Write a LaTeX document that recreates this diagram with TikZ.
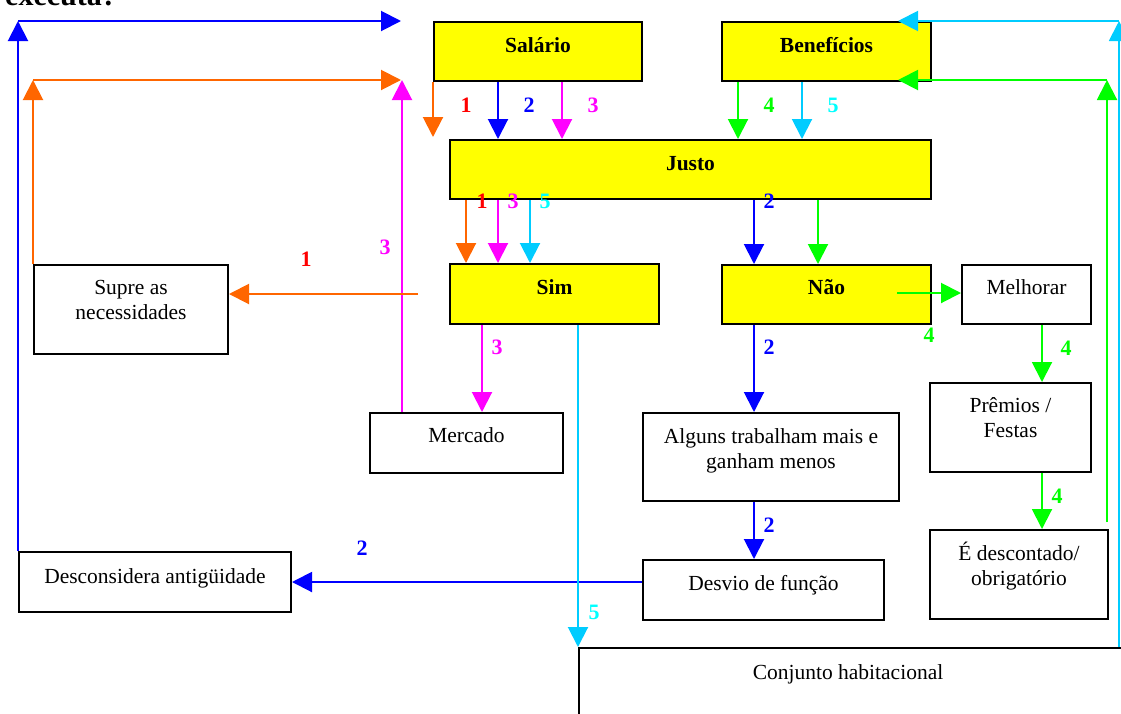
\documentclass[tikz,border=0pt]{standalone}
\usepackage{fontspec}
\setmainfont{Liberation Serif}
\usetikzlibrary{arrows.meta,calc}

\definecolor{cOrange}{HTML}{FF6600}
\definecolor{cRed}{HTML}{FF0000}
\definecolor{cBlue}{HTML}{0000FF}
\definecolor{cMag}{HTML}{FF00FF}
\definecolor{cGreen}{HTML}{00FF00}
\definecolor{cCyan}{HTML}{00CCFF}
\definecolor{cCyanTxt}{HTML}{00FFFF}
\definecolor{cYellow}{HTML}{FFFF00}

\tikzset{
  box/.style={draw=black, line width=2pt, fill=white, inner sep=0pt, anchor=north west},
  ybox/.style={box, fill=cYellow},
  txt/.style={font=\fontsize{21.5}{25}\selectfont, align=center, anchor=base, inner sep=0pt},
  btxt/.style={font=\fontsize{21.5}{25}\selectfont\bfseries, anchor=base, inner sep=0pt},
  num/.style={font=\fontsize{22}{22}\selectfont\bfseries, inner sep=0pt},
  link/.style={line width=2pt, -{Triangle[length=20pt,width=20pt]}},
}

\begin{document}
\begin{tikzpicture}[x=1pt,y=-1pt]
\clip (0,0) rectangle (1121,713);

% heading, cut at the top edge
\node[font=\fontsize{30}{30}\selectfont\bfseries, anchor=base west, inner sep=0pt] (title) at (5,5) {executa?};

% yellow boxes
\node[ybox, minimum width=208pt, minimum height=59pt] (sal) at (433,21) {};
\node[btxt] (salT) at ($(sal.north)+(0,31)$) {Salário};
\node[ybox, minimum width=209pt, minimum height=59pt] (ben) at (721,21) {};
\node[btxt] (benT) at ($(ben.north)+(0,31)$) {Benefícios};
\node[ybox, minimum width=481pt, minimum height=59pt] (justo) at (449,139) {};
\node[btxt] (justoT) at ($(justo.north)+(0,31)$) {Justo};
\node[ybox, minimum width=209pt, minimum height=60pt] (sim) at (449,263) {};
\node[btxt] (simT) at ($(sim.north)+(0,31)$) {Sim};
\node[ybox, minimum width=209pt, minimum height=59pt] (nao) at (721,264) {};
\node[btxt] (naoT) at ($(nao.north)+(0,30)$) {Não};

% white boxes (two-line texts sit on the baseline of their last line)
\node[box, minimum width=129pt, minimum height=59pt] (mel) at (961,264) {};
\node[txt] (melT) at ($(mel.north)+(0,30)$) {Melhorar};
\node[box, minimum width=194pt, minimum height=89pt] (supre) at (33,264) {};
\node[txt] (supreT) at ($(supre.north)+(0,55)$) {Supre as\\necessidades};
\node[box, minimum width=193pt, minimum height=60pt] (merc) at (369,412) {};
\node[txt] (mercT) at ($(merc.north)+(0,30)$) {Mercado};
\node[box, minimum width=256pt, minimum height=88pt] (alg) at (642,412) {};
\node[txt] (algT) at ($(alg.north)+(0,56)$) {Alguns trabalham mais e\\ganham menos};
\node[box, minimum width=241pt, minimum height=60pt] (desv) at (642,559) {};
\node[txt] (desvT) at ($(desv.north)+(0,31)$) {Desvio de função};
\node[box, minimum width=272pt, minimum height=60pt] (desc) at (18,551) {};
\node[txt] (descT) at ($(desc.north)+(0,32)$) {Desconsidera antigüidade};
\node[box, minimum width=161pt, minimum height=89pt] (prem) at (929,382) {};
\node[txt] (premT) at ($(prem.north)+(0,55)$) {Prêmios /\\Festas};
\node[box, minimum width=178pt, minimum height=89pt] (edesc) at (929,529) {};
\node[txt] (edescT) at ($(edesc.north)+(0,56)$) {É descontado/\\obrigatório};
\node[box, minimum width=560pt, minimum height=80pt] (conj) at (578,647) {};
\node[txt] (conjT) at ($(conj.north west)+(270,32)$) {Conjunto habitacional};

% free ends of connectors
\coordinate (oTip) at (433,137);
\coordinate (oStart) at (418,294);
\coordinate (oCorner) at (33,80);
\coordinate (oEnd) at (401,80);
\coordinate (bCorner) at (18,21);
\coordinate (bEnd) at (401,21);
\coordinate (mTip) at (402,80);
\coordinate (gStart) at (897,293);
\coordinate (gFoot) at (1107,522);
\coordinate (gCorner) at (1107,80);
\coordinate (gEnd) at (898,80);
\coordinate (cCorner) at (1119,21);
\coordinate (cEnd) at (898,21);

% path 3 (magenta)
\draw[link,cMag] (562,0 |- sal.south) -- (562,0 |- justo.north);
\draw[link,cMag] (498,0 |- justo.south) -- (498,0 |- sim.north);
\draw[link,cMag] (482,0 |- sim.south) -- (482,0 |- merc.north);
\draw[link,cMag] (402,0 |- merc.north) -- (mTip);

% path 1 (orange)
\draw[link,cOrange] (sal.south west) -- (oTip);
\draw[link,cOrange] (466,0 |- justo.south) -- (466,0 |- sim.north);
\draw[link,cOrange] (oStart) -- (supre.east |- oStart);
\draw[link,cOrange] (supre.north west) -- (oCorner);
\draw[link,cOrange] (oCorner) -- (oEnd);

% path 2 (blue)
\draw[link,cBlue] (498,0 |- sal.south) -- (498,0 |- justo.north);
\draw[link,cBlue] (754,0 |- justo.south) -- (754,0 |- nao.north);
\draw[link,cBlue] (754,0 |- nao.south) -- (754,0 |- alg.north);
\draw[link,cBlue] (754,0 |- alg.south) -- (754,0 |- desv.north);
\draw[link,cBlue] (desv.west |- desc.east) -- (desc.east);
\draw[link,cBlue] (desc.north west) -- (bCorner);
\draw[link,cBlue] (bCorner) -- (bEnd);

% path 4 (green)
\draw[link,cGreen] (738,0 |- ben.south) -- (738,0 |- justo.north);
\draw[link,cGreen] (818,0 |- justo.south) -- (818,0 |- nao.north);
\draw[link,cGreen] (gStart) -- (mel.west |- gStart);
\draw[link,cGreen] (1042,0 |- mel.south) -- (1042,0 |- prem.north);
\draw[link,cGreen] (1042,0 |- prem.south) -- (1042,0 |- edesc.north);
\draw[link,cGreen] (gFoot) -- (gCorner);
\draw[link,cGreen] (gCorner) -- (gEnd);

% path 5 (cyan)
\draw[link,cCyan] (802,0 |- ben.south) -- (802,0 |- justo.north);
\draw[link,cCyan] (530,0 |- justo.south) -- (530,0 |- sim.north);
\draw[link,cCyan] (578,0 |- sim.south) -- (conj.north west);
\draw[link,cCyan] (1119,0 |- conj.north) -- (cCorner);
\draw[link,cCyan] (cCorner) -- (cEnd);

% path numbers
\node[num,cRed] (n1a) at (466,105) {1};
\node[num,cBlue] (n2a) at (529,105) {2};
\node[num,cMag] (n3a) at (593,105) {3};
\node[num,cGreen] (n4a) at (769,105) {4};
\node[num,cCyanTxt] (n5a) at (833,105) {5};
\node[num,cRed] (n1b) at (482,201) {1};
\node[num,cMag] (n3b) at (513,201) {3};
\node[num,cCyanTxt] (n5b) at (545,201) {5};
\node[num,cBlue] (n2b) at (769,201) {2};
\node[num,cRed] (n1c) at (306,259) {1};
\node[num,cMag] (n3c) at (385,247) {3};
\node[num,cMag] (n3d) at (497,347) {3};
\node[num,cBlue] (n2c) at (769,347) {2};
\node[num,cGreen] (n4b) at (929,335) {4};
\node[num,cGreen] (n4c) at (1066,348) {4};
\node[num,cGreen] (n4d) at (1057,496) {4};
\node[num,cBlue] (n2d) at (769,525) {2};
\node[num,cBlue] (n2e) at (362,548) {2};
\node[num,cCyanTxt] (n5c) at (594,612) {5};
\end{tikzpicture}
\end{document}
